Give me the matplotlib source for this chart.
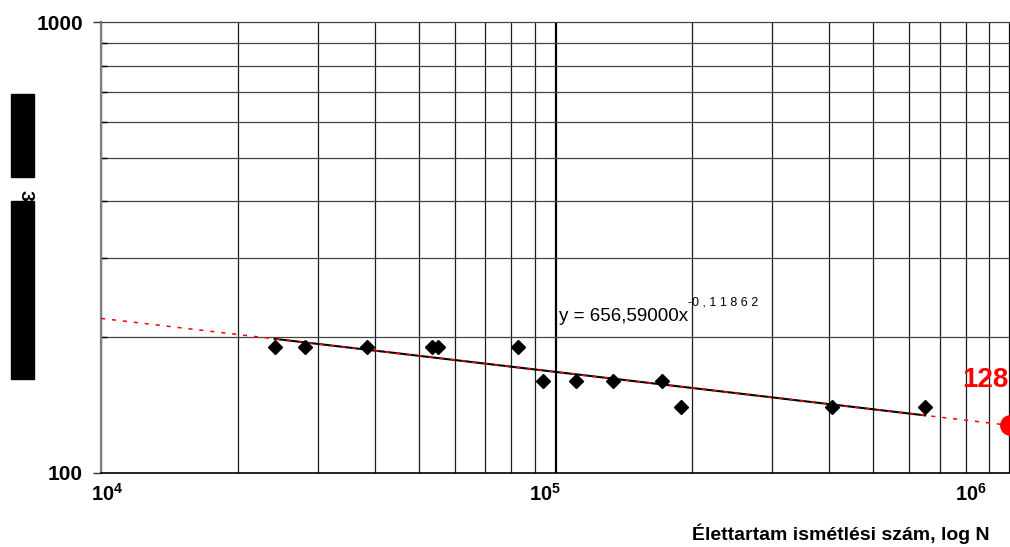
import numpy as np
import matplotlib.pyplot as plt
from matplotlib.patches import Rectangle
from matplotlib.ticker import LogLocator, NullFormatter

plt.rcParams['font.family'] = ['Liberation Sans', 'DejaVu Sans']
plt.rcParams['mathtext.fontset'] = 'custom'
plt.rcParams['mathtext.rm'] = 'Liberation Sans:bold'
plt.rcParams['mathtext.it'] = 'Liberation Sans:bold'
plt.rcParams['mathtext.bf'] = 'Liberation Sans:bold'

# measured points: cycles to failure vs stress level
cycles = [24100, 28100, 38400, 53400, 55100, 82900, 94100,
          111200, 134100, 171900, 189200, 406300, 650700]
stress = [190, 190, 190, 190, 190, 190, 160,
          160, 160, 160, 140, 140, 140]

# power trend y = A * x^b
fit_a = 656.59
fit_b = -0.11862
n_target = 1e6
xlims = [1e4, 1e6]
ylims = [100, 1000]
xlabel = "Élettartam ismétlési szám, log N"

cycles = np.array(cycles, dtype=float)
fit_line = fit_a * cycles ** fit_b
x_ext = np.logspace(np.log10(xlims[0]), np.log10(n_target), 200)
y_ext = fit_a * x_ext ** fit_b
y_target = fit_a * n_target ** fit_b

fig = plt.figure(figsize=(10.1, 5.47), dpi=100)
ax = fig.add_axes([101 / 1010, 74 / 547, 909 / 1010, 451 / 547])
ax.set_xscale('log')
ax.set_yscale('log')
ax.set_xlim(xlims)
ax.set_ylim(ylims)

# grid
ax.xaxis.set_minor_locator(LogLocator(base=10, subs=np.arange(2, 10)))
ax.xaxis.set_minor_formatter(NullFormatter())
ax.grid(which='major', axis='x', color='black', lw=1.6)
ax.grid(which='minor', axis='x', color='#1a1a1a', lw=0.9)
ax.set_yticks([100, 1000], ['100', '1000'])
ax.set_yticks(np.arange(200, 1000, 100), minor=True)
ax.yaxis.set_minor_formatter(NullFormatter())
ax.grid(which='minor', axis='y', color='#444444', lw=0.9)
ax.set_axisbelow(True)

ax.tick_params(axis='x', which='both', length=0, labelbottom=False)
ax.tick_params(axis='y', which='major', length=6, width=1, pad=7,
               labelsize=15, color='#333333')
ax.tick_params(axis='y', which='minor', direction='in', length=4, width=1)
for lbl in ax.get_yticklabels():
    lbl.set_fontweight('bold')

ax.spines['left'].set_color('#808080')
ax.spines['left'].set_linewidth(1.6)
ax.spines['bottom'].set_color('black')
ax.spines['bottom'].set_linewidth(1.2)
ax.spines['top'].set_color('#444444')
ax.spines['top'].set_linewidth(0.9)
ax.spines['right'].set_color('#cccccc')

# x tick labels (placed like in the original sheet)
for xv, e in [(1.03e4, 4), (9.48e4, 5), (8.2e5, 6)]:
    ax.text(xv, -0.046, r'$10^{%d}$' % e, transform=ax.get_xaxis_transform(),
            ha='center', va='center', fontsize=14.5)

ax.text(0.978, -0.135, xlabel, transform=ax.transAxes, ha='right',
        va='center', fontsize=14, fontweight='bold')

# data, fit and extrapolation
ax.plot(cycles, fit_line, color='black', lw=1.5, zorder=3)
ax.plot(x_ext, y_ext, color='red', lw=1.1, dashes=(2.7, 4.5), zorder=4)
ax.plot(cycles, stress, 'D', color='black', ms=7.5, zorder=5)
ax.plot([n_target], [y_target], 'o', color='red', ms=14, zorder=6,
        clip_on=False)
ax.annotate(f'{y_target:.0f}', xy=(n_target, y_target), xytext=(-18, 33),
            textcoords='offset points', ha='center', va='center',
            color='red', fontsize=20, fontweight='bold', annotation_clip=False)

# trend equation
ax.text(1.02e5, 222, 'y = 656,59000x', fontsize=13.5, va='center')
ax.text(1.957e5, 239, '-0 , 1 1 8 6 2', fontsize=9, va='center')

# redacted y label
fig.patches.append(Rectangle((11 / 1010, 1 - 177 / 547), 23 / 1010, 83 / 547,
                             transform=fig.transFigure, color='black'))
fig.patches.append(Rectangle((11 / 1010, 1 - 379 / 547), 23 / 1010, 178 / 547,
                             transform=fig.transFigure, color='black'))
fig.text(25 / 1010, 1 - 195.5 / 547, '3', rotation=-90, ha='center',
         va='center', fontsize=14, fontweight='bold')

fig.savefig('out.png', dpi=100)
